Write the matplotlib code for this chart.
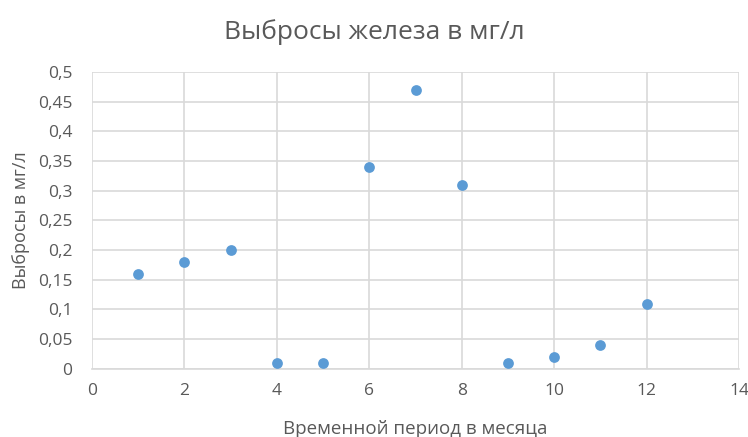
import numpy as np
import matplotlib.pyplot as plt
from matplotlib.ticker import FuncFormatter, MultipleLocator

plt.rcParams['font.family'] = ['Open Sans', 'DejaVu Sans']

# данные
months = [1, 2, 3, 4, 5, 6, 7, 8, 9, 10, 11, 12]
iron = [0.16, 0.18, 0.20, 0.01, 0.01, 0.34, 0.47, 0.31, 0.01, 0.02, 0.04, 0.11]

fig = plt.figure(figsize=(7.48, 4.37), dpi=100)
ax = fig.add_axes([0.123, 0.156, 0.865, 0.679])

ax.scatter(months, iron, s=60, color='#5b9bd5', zorder=3, linewidths=0, clip_on=False)

ax.set_xlim(0, 14)
ax.set_ylim(0, 0.5)
ax.xaxis.set_major_locator(MultipleLocator(2))
ax.yaxis.set_major_locator(MultipleLocator(0.05))

def comma(v, pos):
    s = f'{v:.2f}'.rstrip('0').rstrip('.')
    return s.replace('.', ',')

ax.yaxis.set_major_formatter(FuncFormatter(comma))
ax.xaxis.set_major_formatter(FuncFormatter(lambda v, p: f'{int(v)}'))

ax.grid(True, color='#d9d9d9', linewidth=1.2)
ax.set_axisbelow(True)
for s in ax.spines.values():
    s.set_visible(False)
ax.spines['bottom'].set_visible(True)
ax.spines['bottom'].set_color('#d9d9d9')
ax.spines['bottom'].set_linewidth(1.2)
ax.tick_params(length=0, colors='#595959', labelsize=12.5)
ax.tick_params(axis='x', pad=10)
ax.tick_params(axis='y', pad=14)

fig.text(0.5, 1 - 32 / 437, 'Выбросы железа в мг/л', fontsize=19, color='#595959',
         ha='center', va='center')
ax.set_xlabel('Временной период в месяца', fontsize=13.5, color='#595959', labelpad=15)
ax.set_ylabel('Выбросы в мг/л', fontsize=13, color='#595959', labelpad=6)

fig.savefig('out.png', dpi=100)
